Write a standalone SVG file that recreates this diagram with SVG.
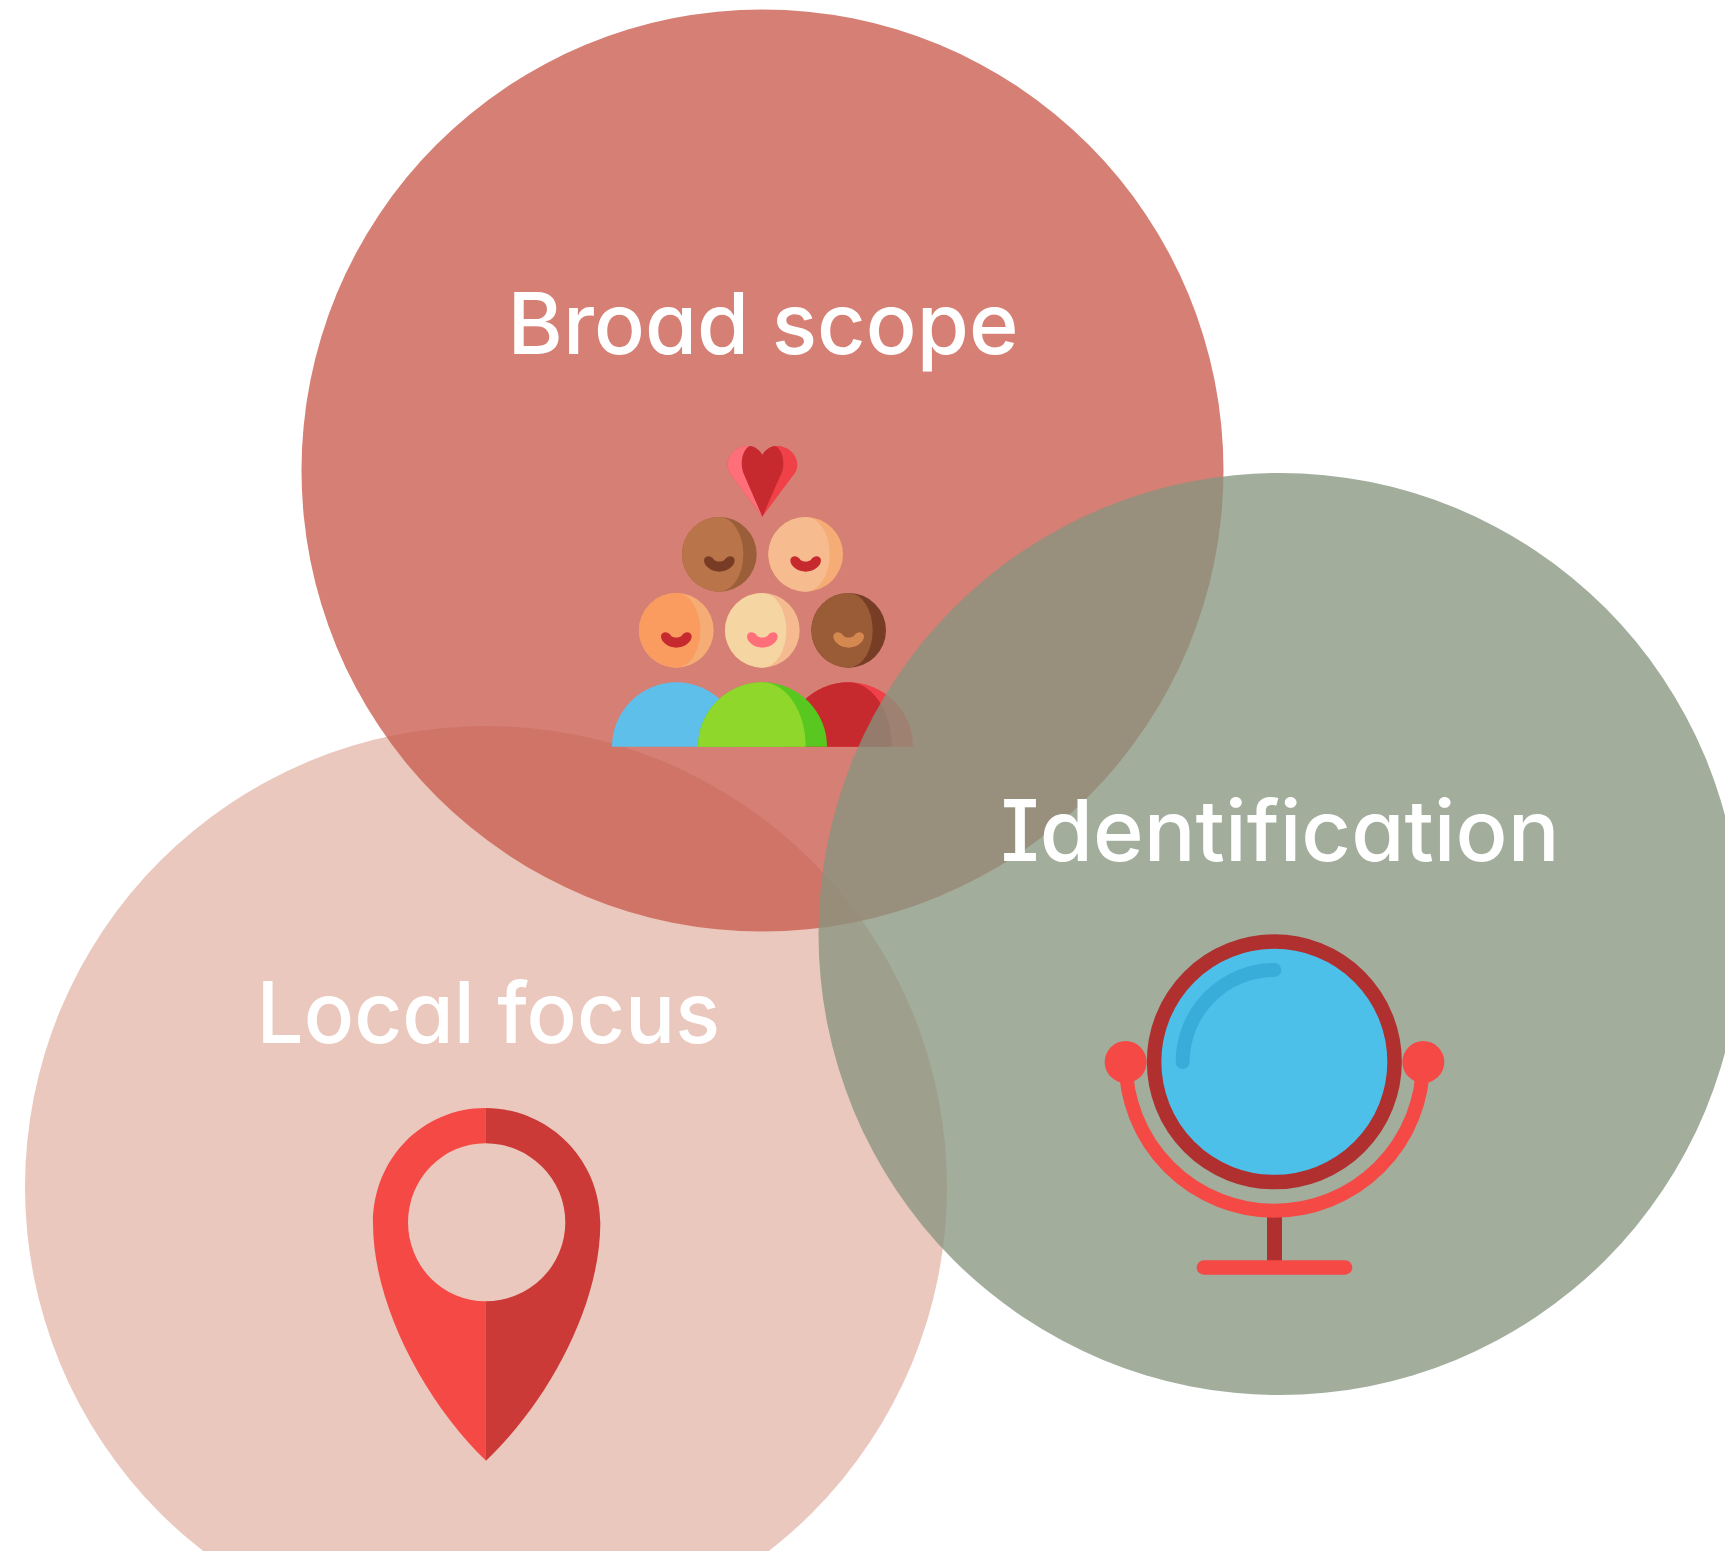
<svg xmlns="http://www.w3.org/2000/svg" width="1725" height="1551" viewBox="0 0 1725 1551">
<style>
.lbl{font-family:"Inter","Liberation Sans",sans-serif;font-size:85px;font-weight:500;fill:#fff;font-feature-settings:"cv11" 1,"cv08" 1;}
</style>
<defs>
<path id="smile" d="M-34 6C-26 6 -20 11 -16 16C-10 23 10 23 16 16C20 11 26 6 34 6C42 6 46 13 46 18C46 37 22 52 0 52C-22 52 -46 37 -46 18C-46 13 -42 6 -34 6Z"/>
</defs>
<rect width="1725" height="1551" fill="#fff"/>
<g id="node-local-focus">
<circle cx="486" cy="1187" r="461" fill="#E6BAAC" fill-opacity="0.8"/>
<g transform="translate(340 1090) scale(0.33333)">
<path fill="#F54946" d="M436 54C248 54 99 206 99 400C99 640 250 930 438 1112L436 1110V634A232 237 0 0 1 436 160Z"/>
<path fill="#CC3A38" d="M436 54C624 54 781 206 781 400C781 640 630 930 438 1112L436 1110V634A240 237 0 0 0 436 160Z"/>
</g>
<text class="lbl" x="256.600" y="1043" textLength="463.600" lengthAdjust="spacingAndGlyphs">Local focus</text>
</g>
<g id="node-broad-scope">
<circle cx="762.500" cy="470.500" r="461" fill="#CA5F52" fill-opacity="0.8"/>
<text class="lbl" x="507.500" y="354" textLength="511" lengthAdjust="spacingAndGlyphs">Broad scope</text>
<g transform="translate(590 420) scale(0.33333)">
<path fill="#F04048" d="M517 290L428 170C418 158 413 148 413 135C413 100 445 78 475 78C495 78 510 92 517 105C525 90 540 78 560 78C594 78 622 102 622 135C622 150 614 161 605 172Z"/>
<path fill="#FF6F7A" d="M517 290L428 170C418 158 413 148 413 135C413 100 445 78 475 78L517 105Z"/>
<path fill="#C6292E" d="M517 290L465 170C455 150 453 130 457 112C461 95 470 80 480 78C497 80 510 92 517 105C525 90 540 80 555 78C570 85 580 105 580 130C580 150 575 160 565 180Z"/>
<g id="face-1"><circle cx="388" cy="403" r="112" fill="#9A5F38"/><path fill="#B9744A" d="M388 291A112 112 0 0 0 388 515A72 112 0 0 0 388 291Z"/><use href="#smile" x="388" y="403" fill="#783C24"/></g>
<g id="face-2"><circle cx="647" cy="403" r="112" fill="#F5AC75"/><path fill="#F7BB90" d="M647 291A112 112 0 0 0 647 515A72 112 0 0 0 647 291Z"/><use href="#smile" x="647" y="403" fill="#C6292E"/></g>
<g id="face-3"><circle cx="259" cy="631" r="112" fill="#F5AC75"/><path fill="#FA9C5F" d="M259 519A112 112 0 0 0 259 743A72 112 0 0 0 259 519Z"/><use href="#smile" x="259" y="631" fill="#C6292E"/></g>
<g id="face-4"><circle cx="517" cy="631" r="112" fill="#F5BA90"/><path fill="#F5D5A1" d="M517 519A112 112 0 0 0 517 743A72 112 0 0 0 517 519Z"/><use href="#smile" x="517" y="631" fill="#FF6F7A"/></g>
<g id="face-5"><circle cx="776" cy="631" r="112" fill="#783E25"/><path fill="#9A5C36" d="M776 519A112 112 0 0 0 776 743A72 112 0 0 0 776 519Z"/><use href="#smile" x="776" y="631" fill="#D5884F"/></g>
<path fill="#5FBFEB" d="M66 980A193 193 0 0 1 452 980Z"/>
<path fill="#F04048" d="M583 980A193 193 0 0 1 969 980Z"/>
<path fill="#C6292E" d="M583 980A193 193 0 0 1 776 787A130 193 0 0 1 905 980Z"/>
<path fill="#58C71F" d="M324 980A193.500 193 0 0 1 711 980Z"/>
<path fill="#90D72B" d="M324 980A193 193 0 0 1 517 787A130 193 0 0 1 647 980Z"/>
</g>
</g>
<g id="node-identification">
<circle cx="1279.500" cy="934" r="461" fill="#86947E" fill-opacity="0.77"/>
<text class="lbl" x="1000.600" y="861" textLength="559" lengthAdjust="spacingAndGlyphs">Identification</text>
<g transform="translate(1080 920) scale(0.33333)">
<rect x="561" y="885" width="45" height="145" fill="#B03030"/>
<path d="M137 426A446 446 0 0 0 1029 426" fill="none" stroke="#F54946" stroke-width="42"/>
<circle cx="137" cy="426" r="63" fill="#F54946"/>
<circle cx="1030" cy="426" r="63" fill="#F54946"/>
<circle cx="583" cy="425.500" r="360.750" fill="#4DC0EA" stroke="#B03030" stroke-width="43.500"/>
<path d="M308 426A275 276 0 0 1 583 150" fill="none" stroke="#38ADDA" stroke-width="42" stroke-linecap="round"/>
<rect x="350" y="1021" width="467" height="43" rx="21.500" fill="#F54946"/>
</g>
</g>
<g id="connectors"/>
</svg>
